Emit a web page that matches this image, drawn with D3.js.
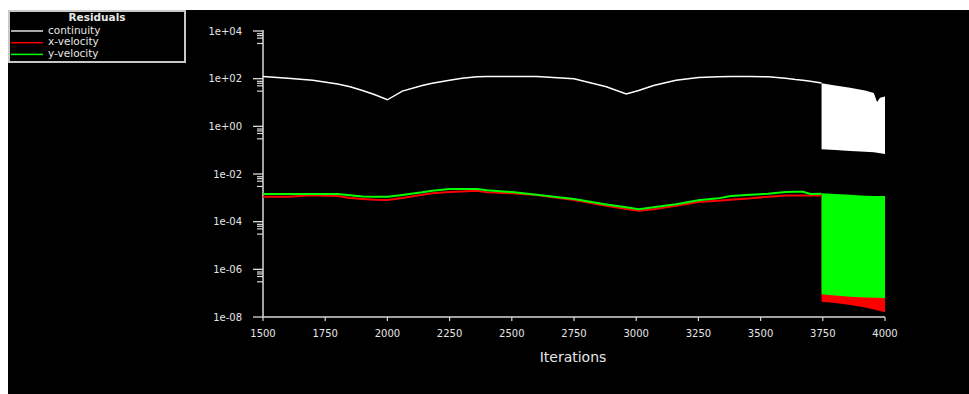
<!DOCTYPE html>
<html>
<head>
<meta charset="utf-8">
<script src="https://cdn.jsdelivr.net/npm/d3@7"></script>
<style>
  body { margin: 0; background: #fff; }
  svg text { font-family: "DejaVu Sans", sans-serif; fill: #e6e6e6; }
</style>
</head>
<body>
<div class="svgContainer"></div>
<script>
// residual history
const iterations = [1500, 1600, 1700, 1800, 1850, 1900, 1950, 2000, 2060, 2140, 2180, 2250, 2300, 2360, 2400, 2500, 2600,
  2750, 2880, 2960, 3010, 3070, 3160, 3250, 3330, 3380, 3460, 3530, 3600, 3640, 3670, 3700, 3745];
const continuity = [123, 105, 86, 60, 46, 32, 21, 13, 30, 52, 64, 85, 103, 120, 122, 122, 122,
  100, 46, 23, 32, 52, 85, 112, 120, 122, 123, 120, 105, 92, 85, 78, 66];
const xVelocity = [1.11e-3, 1.11e-3, 1.27e-3, 1.2e-3, 9.8e-4, 9e-4, 8.3e-4, 8.1e-4, 9.8e-4, 1.35e-3, 1.55e-3, 1.75e-3, 1.85e-3, 1.99e-3, 1.7e-3, 1.55e-3, 1.31e-3,
  8.1e-4, 4.7e-4, 3.4e-4, 2.9e-4, 3.3e-4, 4.6e-4, 6.7e-4, 7.6e-4, 8.3e-4, 9.5e-4, 1.11e-3, 1.25e-3, 1.25e-3, 1.25e-3, 1.25e-3, 1.25e-3];
const yVelocity = [1.44e-3, 1.44e-3, 1.44e-3, 1.44e-3, 1.27e-3, 1.15e-3, 1.11e-3, 1.11e-3, 1.31e-3, 1.7e-3, 1.99e-3, 2.34e-3, 2.34e-3, 2.34e-3, 2.1e-3, 1.75e-3, 1.35e-3,
  8.9e-4, 5.3e-4, 4.0e-4, 3.3e-4, 4.0e-4, 5.4e-4, 8.0e-4, 9.5e-4, 1.19e-3, 1.35e-3, 1.49e-3, 1.75e-3, 1.8e-3, 1.8e-3, 1.44e-3, 1.5e-3];

// after 3745 the residuals oscillate every iteration -> drawn as bands (upper / lower envelope)
const contBandIters = [3745, 3800, 3860, 3920, 3955, 3968, 3980, 4000];
const contBandHigh = [64, 52, 42, 32, 25, 10.5, 16, 18];
const contBandLow = [0.109, 0.102, 0.092, 0.086, 0.081, 0.078, 0.075, 0.069];

const velBandIters = [3745, 3800, 3860, 3920, 3960, 4000];
const xVelBandHigh = [1.25e-3, 1.2e-3, 1.15e-3, 1.1e-3, 1.1e-3, 1.1e-3];
const xVelBandLow = [4.4e-8, 3.9e-8, 3.2e-8, 2.5e-8, 2.0e-8, 1.6e-8];
const yVelBandHigh = [1.55e-3, 1.45e-3, 1.35e-3, 1.22e-3, 1.2e-3, 1.19e-3];
const yVelBandLow = [8.9e-8, 8e-8, 7e-8, 6.6e-8, 6.4e-8, 6.2e-8];

const xTicks = [1500, 1750, 2000, 2250, 2500, 2750, 3000, 3250, 3500, 3750, 4000];
const yTicks = [1e4, 1e2, 1e0, 1e-2, 1e-4, 1e-6, 1e-8];
const yTickLabels = ["1e+04", "1e+02", "1e+00", "1e-02", "1e-04", "1e-06", "1e-08"];
const minorFactors = [0.77, 0.64, 0.5, 0.3];

const seriesNames = ["continuity", "x-velocity", "y-velocity"];
const seriesColors = ["#ffffff", "#ff0000", "#00ff00"];

const width = 969;
const height = 394;

const svg = d3.select(".svgContainer").append("svg")
  .attr("width", width)
  .attr("height", height);

svg.append("rect")
  .attr("x", 8).attr("y", 10)
  .attr("width", width - 8).attr("height", height - 10)
  .attr("fill", "#000");

const x = d3.scaleLinear().domain([1500, 4000]).range([263, 885]);
const y = d3.scaleLog().domain([1e-8, 1e4]).range([317, 31]);

// axes
const axisColor = "#d8d8d8";
svg.append("line")
  .attr("x1", 263).attr("x2", 263)
  .attr("y1", 30).attr("y2", 317)
  .attr("stroke", axisColor).attr("stroke-width", 1.5);
svg.append("line")
  .attr("x1", 263).attr("x2", 885)
  .attr("y1", 317).attr("y2", 317)
  .attr("stroke", axisColor).attr("stroke-width", 1.5);

const minor = [];
yTicks.slice(0, -1).forEach((t) => {
  minorFactors.forEach((f) => minor.push(t * f));
});

svg.selectAll("line.ymajor")
  .data(yTicks)
  .enter().append("line")
  .attr("class", "ymajor")
  .attr("x1", 253).attr("x2", 263)
  .attr("y1", (d) => y(d)).attr("y2", (d) => y(d))
  .attr("stroke", axisColor).attr("stroke-width", 1.3);

svg.selectAll("line.yminor")
  .data(minor)
  .enter().append("line")
  .attr("class", "yminor")
  .attr("x1", 257).attr("x2", 263)
  .attr("y1", (d) => y(d)).attr("y2", (d) => y(d))
  .attr("stroke", axisColor).attr("stroke-width", 1.2);

svg.selectAll("text.ylab")
  .data(yTicks)
  .enter().append("text")
  .attr("class", "ylab")
  .attr("x", 242)
  .attr("y", (d) => y(d))
  .attr("dy", "0.35em")
  .attr("text-anchor", "end")
  .style("font-size", "10px")
  .text((d, i) => yTickLabels[i]);

svg.selectAll("line.xtick")
  .data(xTicks)
  .enter().append("line")
  .attr("class", "xtick")
  .attr("x1", (d) => x(d)).attr("x2", (d) => x(d))
  .attr("y1", 317).attr("y2", 321)
  .attr("stroke", axisColor).attr("stroke-width", 1.2);

svg.selectAll("text.xlab")
  .data(xTicks)
  .enter().append("text")
  .attr("class", "xlab")
  .attr("x", (d) => x(d))
  .attr("y", 333)
  .attr("dy", "0.35em")
  .attr("text-anchor", "middle")
  .style("font-size", "10px")
  .text((d) => d);

svg.append("text")
  .attr("x", 573).attr("y", 357)
  .attr("dy", "0.35em")
  .attr("text-anchor", "middle")
  .style("font-size", "14px")
  .text("Iterations");

// bands
const band = (iters, hi, lo) => d3.area()
  .x((d, i) => x(iters[i]))
  .y0((d, i) => y(lo[i]))
  .y1((d, i) => y(hi[i]))(iters);

const body = svg.append("g").attr("class", "body");

body.append("path").attr("d", band(contBandIters, contBandHigh, contBandLow)).attr("fill", seriesColors[0]);
body.append("path").attr("d", band(velBandIters, xVelBandHigh, xVelBandLow)).attr("fill", seriesColors[1]);
body.append("path").attr("d", band(velBandIters, yVelBandHigh, yVelBandLow)).attr("fill", seriesColors[2]);

// lines
const line = (vals) => d3.line()
  .x((d, i) => x(iterations[i]))
  .y((d) => y(d))(vals);

[continuity, xVelocity, yVelocity].forEach((vals, k) => {
  body.append("path")
    .attr("d", line(vals))
    .attr("fill", "none")
    .attr("stroke", seriesColors[k])
    .attr("stroke-width", k === 0 ? 1.5 : 2);
});

// legend
const legend = svg.append("g").attr("class", "legend");
legend.append("rect")
  .attr("x", 9).attr("y", 11)
  .attr("width", 176).attr("height", 51)
  .attr("fill", "#000")
  .attr("stroke", "#c8c8c8").attr("stroke-width", 2);
legend.append("text")
  .attr("x", 97).attr("y", 17)
  .attr("dy", "0.35em")
  .attr("text-anchor", "middle")
  .style("font-size", "10.5px")
  .style("font-weight", "bold")
  .text("Residuals");

seriesNames.forEach((name, i) => {
  const ly = 31 + i * 11.7;
  legend.append("line")
    .attr("x1", 11).attr("x2", 43)
    .attr("y1", ly).attr("y2", ly)
    .attr("stroke", i === 0 ? "#e0e0e0" : seriesColors[i])
    .attr("stroke-width", 1.5);
  legend.append("text")
    .attr("x", 48).attr("y", ly - 1)
    .attr("dy", "0.35em")
    .style("font-size", "10.5px")
    .text(name);
});
</script>
</body>
</html>
